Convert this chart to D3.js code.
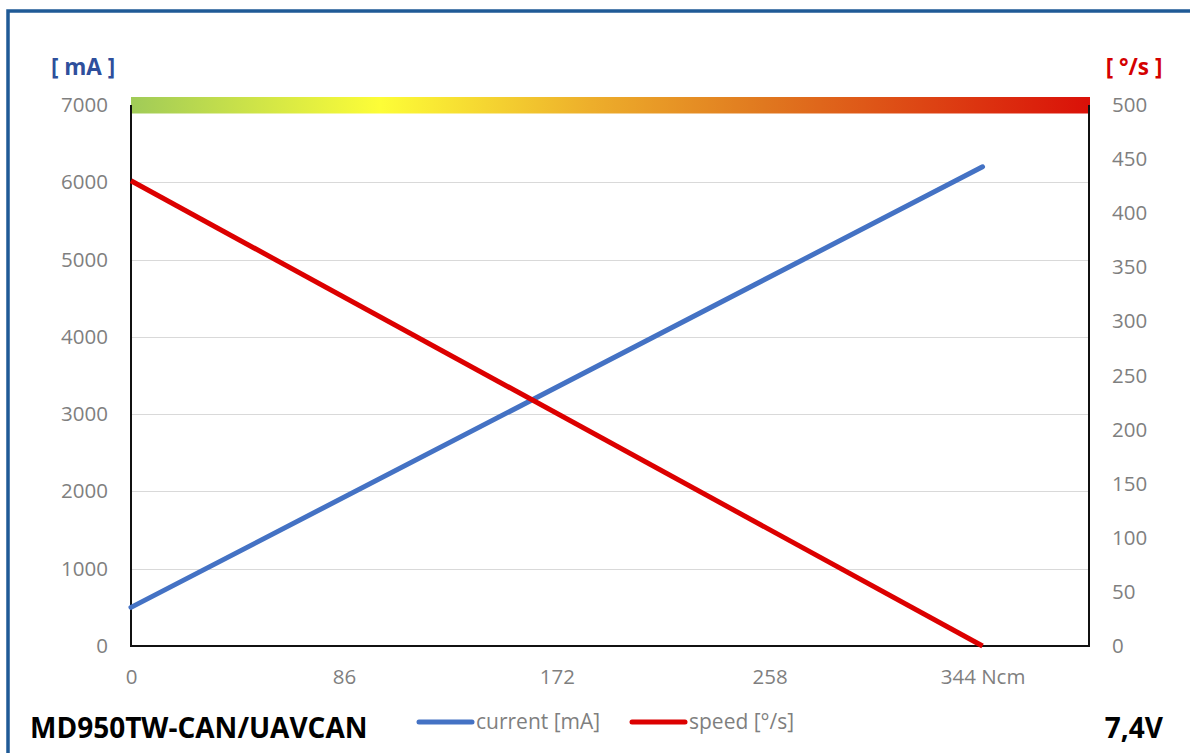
<!DOCTYPE html>
<html>
<head>
<meta charset="utf-8">
<script src="https://cdn.jsdelivr.net/npm/d3@7"></script>
<style>
  html, body { margin: 0; padding: 0; background: #fff; }
  svg { display: block; font-family: "Open Sans", "DejaVu Sans", sans-serif; }
</style>
</head>
<body>
<svg id="chart" width="1190" height="753"></svg>
<script>
// Torque sweep in Ncm
const torque = [0, 344];
// Motor current at each torque point [mA]
const currentMA = [500, 6200];
// Output speed at each torque point [°/s]
const speedDPS = [430, 0];

const xTicks = [0, 86, 172, 258, 344];
const leftTicks = [0, 1000, 2000, 3000, 4000, 5000, 6000, 7000];
const rightTicks = [0, 50, 100, 150, 200, 250, 300, 350, 400, 450, 500];

const seriesNames = ["current [mA]", "speed [°/s]"];
const modelName = "MD950TW-CAN/UAVCAN";
const voltageLabel = "7,4V";

const svg = d3.select("#chart");
const W = 1190, H = 753;
const plot = { left: 131, right: 1089, top: 105, bottom: 646 };

const x = d3.scaleLinear().domain([0, 387]).range([plot.left, plot.right]);
const yL = d3.scaleLinear().domain([0, 7000]).range([plot.bottom, plot.top]);
const yR = d3.scaleLinear().domain([0, 500]).range([plot.bottom, plot.top]);

// outer frame
svg.append("rect")
  .attr("x", 8).attr("y", 11)
  .attr("width", W + 20).attr("height", H + 20)
  .attr("fill", "none")
  .attr("stroke", "#1f5a96")
  .attr("stroke-width", 3.5);

// gradient strip along the top of the plot
const defs = svg.append("defs");
const grad = defs.append("linearGradient").attr("id", "topbar")
  .attr("x1", "0%").attr("x2", "100%").attr("y1", "0%").attr("y2", "0%");
[
  ["0%", "#a0cb58"],
  ["26%", "#fdfd37"],
  ["48%", "#edae2b"],
  ["66%", "#e0781f"],
  ["100%", "#da1008"]
].forEach(([o, c]) => grad.append("stop").attr("offset", o).attr("stop-color", c));

// horizontal gridlines
svg.append("g")
  .selectAll("line")
  .data(leftTicks.filter(d => d > 0 && d < 7000))
  .join("line")
  .attr("x1", plot.left).attr("x2", plot.right)
  .attr("y1", d => Math.round(yL(d)) + 0.5)
  .attr("y2", d => Math.round(yL(d)) + 0.5)
  .attr("stroke", "#d9d9d9")
  .attr("stroke-width", 1);

svg.append("rect")
  .attr("x", plot.left).attr("y", 97)
  .attr("width", plot.right - plot.left + 1).attr("height", 16.5)
  .attr("fill", "url(#topbar)");

// axis lines (left, right, bottom)
const axisColor = "#111";
svg.append("line")
  .attr("x1", plot.left).attr("x2", plot.left)
  .attr("y1", plot.top).attr("y2", plot.bottom + 1)
  .attr("stroke", axisColor).attr("stroke-width", 2);
svg.append("line")
  .attr("x1", plot.right).attr("x2", plot.right)
  .attr("y1", plot.top).attr("y2", plot.bottom + 1)
  .attr("stroke", axisColor).attr("stroke-width", 2);
svg.append("line")
  .attr("x1", plot.left).attr("x2", plot.right + 1)
  .attr("y1", plot.bottom).attr("y2", plot.bottom)
  .attr("stroke", axisColor).attr("stroke-width", 2);

// tick labels via d3 axes (no domain/tick lines)
const tickFont = 20.5;
const gL = svg.append("g")
  .attr("transform", `translate(${plot.left - 23},0)`)
  .call(d3.axisLeft(yL).tickValues(leftTicks).tickSize(0).tickPadding(0).tickFormat(d3.format("d")));
const gR = svg.append("g")
  .attr("transform", `translate(${plot.right + 23},0)`)
  .call(d3.axisRight(yR).tickValues(rightTicks).tickSize(0).tickPadding(0).tickFormat(d3.format("d")));
const gB = svg.append("g")
  .attr("transform", `translate(0,${plot.bottom + 23})`)
  .call(d3.axisBottom(x).tickValues(xTicks).tickSize(0).tickPadding(0)
    .tickFormat((d, i) => i === xTicks.length - 1 ? d + " Ncm" : d));
[gL, gR, gB].forEach(g => {
  g.select(".domain").remove();
  g.selectAll("text")
    .attr("fill", "#7f7f7f")
    .style("font-size", tickFont + "px")
    .style("font-family", "'Open Sans', sans-serif");
});
gB.selectAll("text").attr("dy", "0.72em");

// unit labels
svg.append("text")
  .attr("x", 83).attr("y", 75)
  .attr("text-anchor", "middle")
  .attr("fill", "#2e4f9c")
  .style("font-size", "22.5px").style("font-weight", "bold")
  .text("[ mA ]");
svg.append("text")
  .attr("x", 1134).attr("y", 75)
  .attr("text-anchor", "middle")
  .attr("fill", "#d40000")
  .style("font-size", "22.5px").style("font-weight", "bold")
  .text("[ °/s ]");

// series lines
const pts = (ys, scale) => torque.map((t, i) => [x(t), scale(ys[i])]);
svg.append("path")
  .attr("d", d3.line()(pts(currentMA, yL)))
  .attr("fill", "none")
  .attr("stroke", "#4472c4")
  .attr("stroke-width", 5)
  .attr("stroke-linecap", "round");
svg.append("path")
  .attr("d", d3.line()(pts(speedDPS, yR)))
  .attr("fill", "none")
  .attr("stroke", "#dc0000")
  .attr("stroke-width", 5)
  .attr("stroke-linecap", "butt");

// legend
const legendY = 722;
const legend = [
  { name: seriesNames[0], color: "#4472c4", x: 419 },
  { name: seriesNames[1], color: "#dc0000", x: 632 }
];
legend.forEach(l => {
  svg.append("line")
    .attr("x1", l.x).attr("x2", l.x + 53)
    .attr("y1", legendY).attr("y2", legendY)
    .attr("stroke", l.color).attr("stroke-width", 5)
    .attr("stroke-linecap", "round");
  svg.append("text")
    .attr("x", l.x + 57).attr("y", legendY + 7)
    .attr("fill", "#7f7f7f")
    .style("font-size", "21px")
    .text(l.name);
});

// footer labels
svg.append("text")
  .attr("x", 30).attr("y", 738)
  .attr("fill", "#000")
  .style("font-size", "28px").style("font-weight", "bold")
  .text(modelName);
svg.append("text")
  .attr("x", 1163).attr("y", 738)
  .attr("text-anchor", "end")
  .attr("fill", "#000")
  .style("font-size", "28px").style("font-weight", "bold")
  .text(voltageLabel);
</script>
</body>
</html>
